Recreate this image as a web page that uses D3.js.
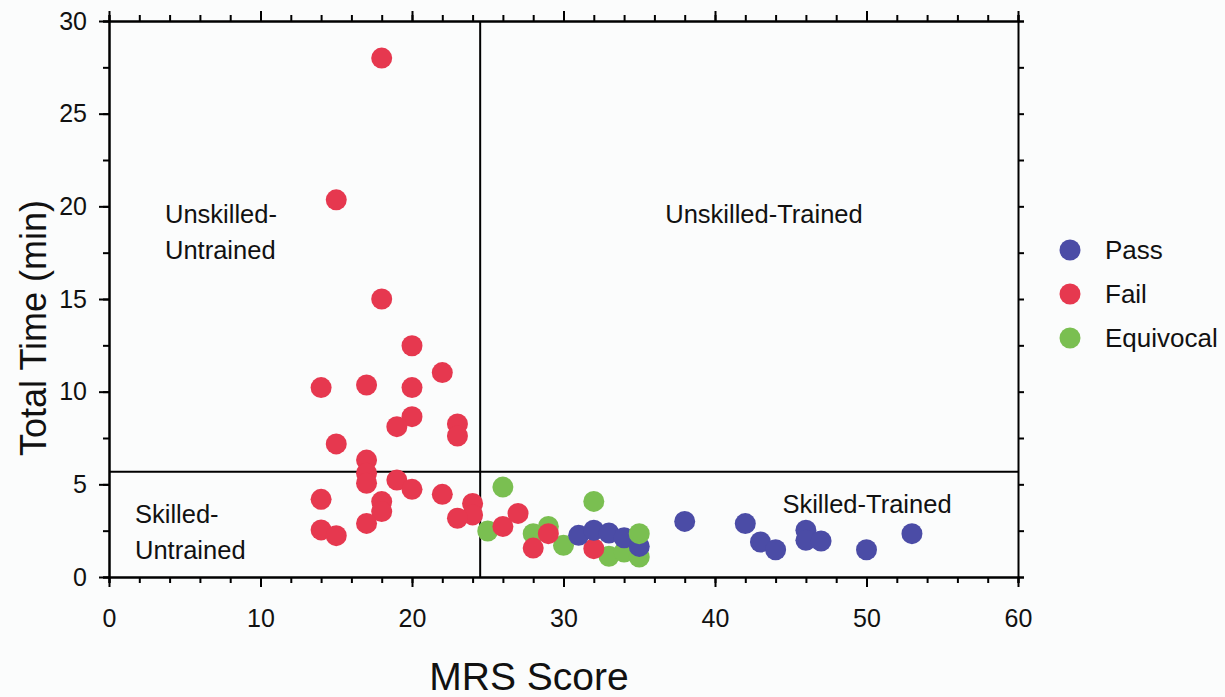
<!DOCTYPE html>
<html>
<head>
<meta charset="utf-8">
<title>MRS Score vs Total Time</title>
<script src="https://cdn.jsdelivr.net/npm/d3@7"></script>
<style>
body { margin: 0; background: #fbfcfc; font-family: "Liberation Sans", Arial, sans-serif; }
</style>
</head>
<body>
<div id="chart"></div>
<script>
// data: [MRS score, total time]
const failPts = [
  [18, 28], [15, 20.35], [18, 15], [20, 12.48], [22, 11.03], [14, 10.22], [17, 10.36],
  [20, 10.22], [20, 8.65], [19, 8.11], [23, 8.26], [23, 7.61], [15, 7.18], [17, 6.31],
  [17, 5.6], [17, 5.06], [19, 5.23], [20, 4.73], [22, 4.46], [14, 4.19], [18, 4.07],
  [18, 3.53], [24, 3.97], [24, 3.35], [23, 3.17], [17, 2.89], [14, 2.54], [15, 2.23],
  [26, 2.73], [27, 3.43], [28, 1.56], [29, 2.34], [32, 1.53]
];
const equivPts = [
  [26, 4.85], [25, 2.48], [32, 4.08], [29, 2.73], [28, 2.34], [30, 1.71],
  [33, 1.12], [34, 1.35], [35, 1.08]
];
const passPts = [
  [31, 2.25], [32, 2.52], [33, 2.37], [34, 2.12], [35, 1.65], [38, 3.0], [42, 2.88],
  [43, 1.89], [44, 1.47], [46, 2.52], [46, 1.98], [47, 1.94], [50, 1.47], [53, 2.34]
];
const equivTop = [[35, 2.34]];

const seriesNames = ["Pass", "Fail", "Equivocal"];
const seriesColors = ["#4b4ca6", "#e6384f", "#7abf51"];

const xTicks = [0, 10, 20, 30, 40, 50, 60];
const yTicks = [0, 5, 10, 15, 20, 25, 30];
const xCut = 24.5, yCut = 5.68;

const W = 1225, H = 697;
const m = { left: 109, right: 207, top: 21, bottom: 120 };

const svg = d3.select("#chart").append("svg").attr("width", W).attr("height", H);

const x = d3.scaleLinear().domain([0, 60]).range([m.left, W - m.right]);
const y = d3.scaleLinear().domain([0, 30]).range([H - m.bottom, m.top]);

function styleAxis(g) {
  g.select(".domain").attr("stroke", "#000").attr("stroke-width", 2);
  g.selectAll(".tick line").attr("stroke", "#000").attr("stroke-width", 2);
  g.selectAll("text").attr("font-size", 25).attr("fill", "#111").attr("font-family", "Liberation Sans, Arial, sans-serif");
}

const xMinor = d3.range(0, 61, 2);
const yMinor = d3.range(0, 30.1, 2.5);

// minor ticks
svg.append("g").attr("transform", `translate(0,${y(0)})`)
  .call(d3.axisBottom(x).tickValues(xMinor).tickSize(6).tickFormat(""))
  .call(styleAxis);
svg.append("g").attr("transform", `translate(0,${y(30)})`)
  .call(d3.axisTop(x).tickValues(xMinor).tickSize(6).tickFormat(""))
  .call(styleAxis);
svg.append("g").attr("transform", `translate(${x(0)},0)`)
  .call(d3.axisLeft(y).tickValues(yMinor).tickSize(6).tickFormat(""))
  .call(styleAxis);
svg.append("g").attr("transform", `translate(${x(60)},0)`)
  .call(d3.axisRight(y).tickValues(yMinor).tickSize(6).tickFormat(""))
  .call(styleAxis);

// major ticks + labels
svg.append("g").attr("transform", `translate(0,${y(0)})`)
  .call(d3.axisBottom(x).tickValues(xTicks).tickSize(10).tickSizeOuter(0).tickPadding(22))
  .call(styleAxis);
svg.append("g").attr("transform", `translate(0,${y(30)})`)
  .call(d3.axisTop(x).tickValues(xTicks).tickSize(10).tickSizeOuter(0).tickFormat(""))
  .call(styleAxis);
svg.append("g").attr("transform", `translate(${x(0)},0)`)
  .call(d3.axisLeft(y).tickValues(yTicks).tickSize(10).tickSizeOuter(0).tickPadding(12))
  .call(styleAxis);

// quadrant lines
svg.append("line").attr("x1", x(xCut)).attr("x2", x(xCut)).attr("y1", y(0)).attr("y2", y(30))
  .attr("stroke", "#000").attr("stroke-width", 2);
svg.append("line").attr("x1", x(0)).attr("x2", x(60)).attr("y1", y(yCut)).attr("y2", y(yCut))
  .attr("stroke", "#000").attr("stroke-width", 2);

// points
const r = 10.5;
function drawPts(pts, color) {
  svg.append("g").selectAll("circle").data(pts).join("circle")
    .attr("cx", d => x(d[0])).attr("cy", d => y(d[1])).attr("r", r).attr("fill", color);
}
drawPts(equivPts, seriesColors[2]);
drawPts(failPts, seriesColors[1]);
drawPts(passPts, seriesColors[0]);
drawPts(equivTop, seriesColors[2]);

// quadrant labels
const lab = svg.append("g").attr("font-size", 25.5).attr("fill", "#111");
lab.append("text").attr("x", 165).attr("y", 223).text("Unskilled-");
lab.append("text").attr("x", 165).attr("y", 259).text("Untrained");
lab.append("text").attr("x", 764).attr("y", 223).attr("text-anchor", "middle").text("Unskilled-Trained");
lab.append("text").attr("x", 135).attr("y", 523).text("Skilled-");
lab.append("text").attr("x", 135).attr("y", 559).text("Untrained");
lab.append("text").attr("x", 867).attr("y", 513).attr("text-anchor", "middle").text("Skilled-Trained");

// axis titles
svg.append("text").attr("x", 529).attr("y", 690).attr("text-anchor", "middle")
  .attr("font-size", 39).attr("fill", "#111").text("MRS Score");
svg.append("text").attr("transform", "translate(46,328) rotate(-90)").attr("text-anchor", "middle")
  .attr("font-size", 36).attr("fill", "#111").text("Total Time (min)");

// legend
const leg = svg.append("g").selectAll("g").data(seriesNames).join("g")
  .attr("transform", (d, i) => `translate(1070,${250 + i * 44})`);
leg.append("circle").attr("r", 10.5).attr("fill", (d, i) => seriesColors[i]);
leg.append("text").attr("x", 35).attr("y", 9).attr("font-size", 26).attr("fill", "#111").text(d => d);
</script>
</body>
</html>
